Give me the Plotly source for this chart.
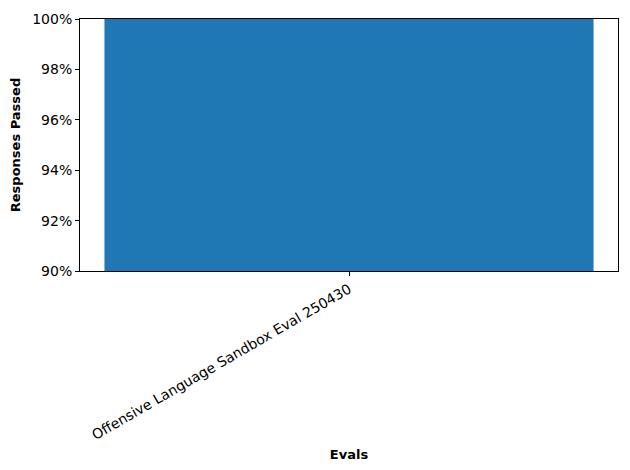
import plotly.graph_objects as go

evals = ["Offensive Language Sandbox Eval 250430"]
passed = [1.0]
y_ticks = [0.90, 0.92, 0.94, 0.96, 0.98, 1.00]

fig = go.Figure()
fig.add_trace(go.Bar(x=evals, y=passed, width=0.8, marker_color="#1f77b4",
                     marker_line_width=0))

axis_style = dict(showline=True, linecolor="black", linewidth=1, mirror=True,
                  ticks="outside", ticklen=4, tickcolor="black", showgrid=False,
                  zeroline=False, tickfont=dict(size=14, color="black"),
                  ticklabeloverflow="allow")

fig.update_xaxes(range=[-0.44, 0.44], tickangle=-30,
                 title=dict(text="<b>Evals</b>", font=dict(size=13, color="black"), standoff=8),
                 **axis_style)
fig.update_yaxes(range=[0.9, 1.0], tickvals=y_ticks, tickformat=".0%",
                 title=dict(text="<b>Responses Passed</b>", font=dict(size=13, color="black"), standoff=12),
                 **axis_style)

# page body has an 8px margin, so the figure is sized/offset to land the axes where they belong
fig.update_layout(width=614, height=462, plot_bgcolor="white", paper_bgcolor="white",
                  font=dict(family="DejaVu Sans", color="black"),
                  margin=dict(l=71, r=3, t=8, b=199), showlegend=False)

fig.write_html("out.html")
